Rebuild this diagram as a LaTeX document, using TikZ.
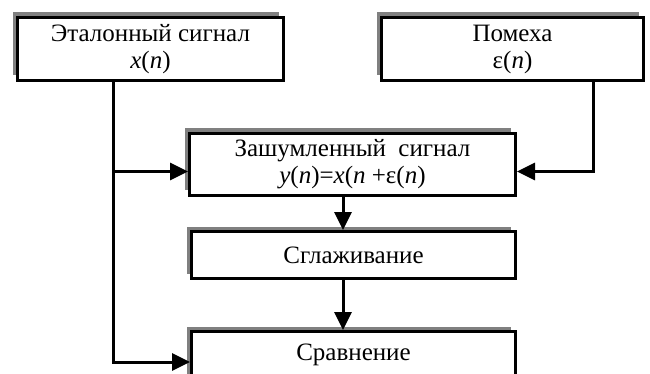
\documentclass[tikz,border=0pt]{standalone}
\usepackage{fontspec}
\setmainfont{Liberation Serif}
\usetikzlibrary{positioning,shadows,arrows.meta}
\tikzset{
  blok/.style={draw, line width=3pt, fill=white, inner sep=2pt, align=center,
    font=\fontsize{25}{27}\selectfont,
    drop shadow={shadow xshift=-5pt, shadow yshift=5pt, fill=black!50, opacity=1}},
  strelka/.style={line width=3pt, line join=miter, -{Triangle[length=18pt,width=17pt]}}
}
\begin{document}
\begin{tikzpicture}[x=1pt,y=-1pt]
\useasboundingbox (0,0) rectangle (650,374);
% blocks
\node[blok, minimum width=266pt, minimum height=63pt] (etalon) at (150.5,49) {Эталонный сигнал\\\textit{x}(\textit{n})};
\node[blok, minimum width=262pt, minimum height=63pt] (pomeha) at (512.5,49) {Помеха\\ε(\textit{n})};
\node[blok, minimum width=326pt, minimum height=62pt] (shum) at (352.5,164.5) {Зашумленный\ \ сигнал\\\textit{y}(\textit{n})=\textit{x}(\textit{n} +ε(\textit{n})};
\node[blok, minimum width=324pt, minimum height=47pt] (sglazh) at (353.5,255) {Сглаживание};
\node[blok, minimum width=324pt, minimum height=47pt] (sravn) at (353.5,355) {Сравнение};
% connectors
\draw[strelka] ([xshift=-37.5pt]etalon.south) |- ([yshift=-7pt]sravn.west);
\draw[strelka] ([xshift=-37.5pt,yshift=-7pt]etalon.south |- shum.west) -- ([yshift=-7pt]shum.west);
\draw[strelka] ([xshift=80.5pt]pomeha.south) |- ([yshift=-7pt]shum.east);
\draw[strelka] ([xshift=-9.5pt]shum.south) -- ([xshift=-10.5pt]sglazh.north);
\draw[strelka] ([xshift=-10.5pt]sglazh.south) -- ([xshift=-10.5pt]sravn.north);
\end{tikzpicture}
\end{document}
